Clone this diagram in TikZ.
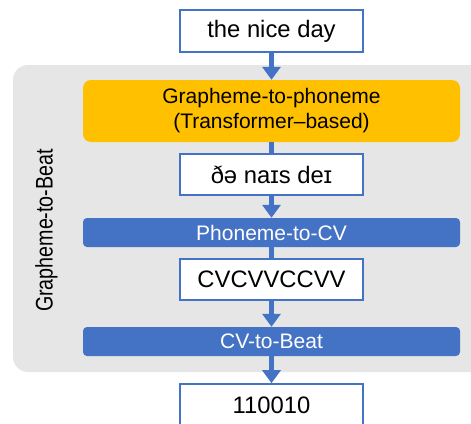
\documentclass[tikz,border=0pt]{standalone}
\usepackage{fontspec}
\setmainfont{Liberation Sans}
\usetikzlibrary{arrows.meta}
\definecolor{myblue}{HTML}{4472C4}
\definecolor{myorange}{HTML}{FFC000}
\definecolor{mygray}{HTML}{E6E6E6}
\tikzset{
  txtbox/.style={draw=myblue, line width=1.6pt, fill=white, minimum width=183pt, minimum height=42pt, inner sep=0pt, font=\fontsize{23.8}{27}\selectfont},
  orangebox/.style={fill=myorange, rounded corners=8pt, minimum width=377pt, minimum height=62pt, inner sep=0pt, align=center, font=\fontsize{21}{25}\selectfont},
  blueband/.style={fill=myblue, rounded corners=4pt, minimum width=377pt, minimum height=29pt, inner sep=0pt, text=white, font=\fontsize{21}{25}\selectfont},
  arr/.style={myblue, line width=5.5pt, -{Triangle[width=18pt,length=13pt]}},
  plainline/.style={myblue, line width=5.5pt}
}
\begin{document}
\begin{tikzpicture}[x=1pt,y=-1pt]
\useasboundingbox (0,0) rectangle (471,423);
\clip (0,0) rectangle (471,423);
\fill[mygray, rounded corners=15pt] (13,65) rectangle (495,372);
\node[rotate=90, anchor=base, inner sep=0pt, font=\fontsize{24}{28}\selectfont] (lab) at (52.5,230.5) {\scalebox{0.82}[1]{Grapheme-to-Beat}};
\node[txtbox] (top) at (271.5,31) {the nice day};
\node[orangebox] (g2p) at (271.5,111) {Grapheme-to-phoneme\\(Transformer--based)};
\node[txtbox, minimum height=41pt] (ipa) at (271.5,174.5) {ðə naɪs deɪ};
\node[blueband] (p2cv) at (271.5,232.5) {Phoneme-to-CV};
\node[txtbox, minimum height=41pt] (cv) at (271.5,279.5) {CVCVVCCVV};
\node[blueband] (cv2b) at (271.5,341.5) {CV-to-Beat};
\node[txtbox] (out) at (271.5,405) {110010};
\draw[arr] (top) -- (g2p);
\draw[plainline] (g2p) -- (ipa);
\draw[arr] (ipa) -- (p2cv);
\draw[plainline] (p2cv) -- (cv);
\draw[arr] (cv) -- (cv2b);
\draw[arr] (cv2b) -- (out);
\end{tikzpicture}
\end{document}
